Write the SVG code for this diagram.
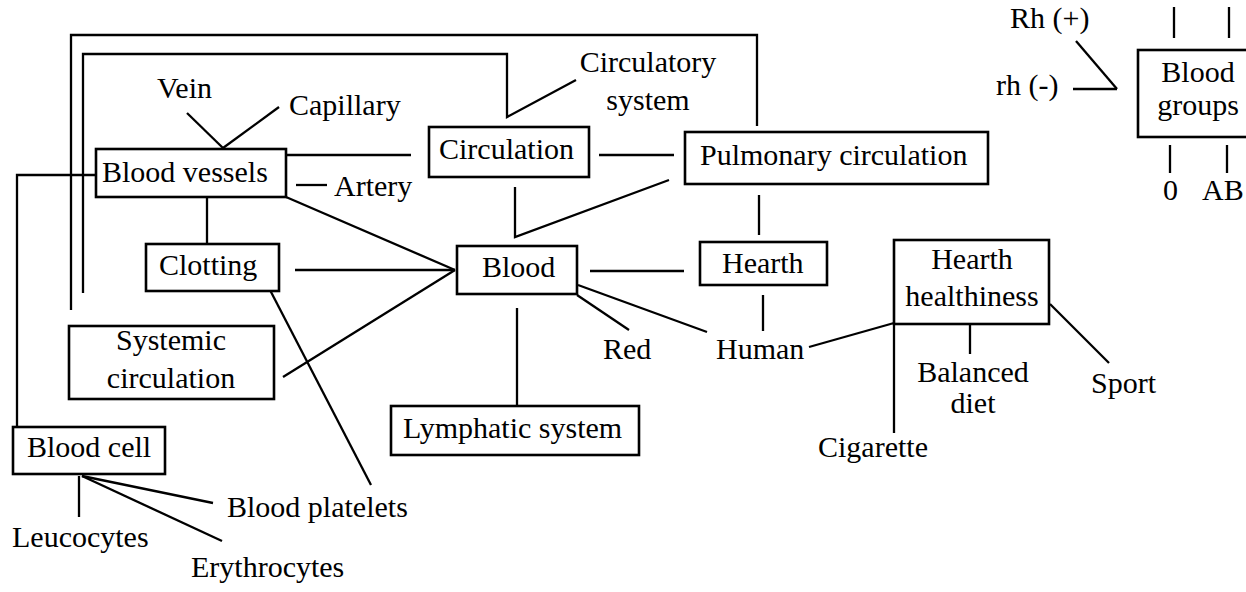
<svg xmlns="http://www.w3.org/2000/svg" width="1246" height="592" viewBox="0 0 1246 592">
  <style>
    text { font-family: "Liberation Serif", "Times New Roman", serif; font-size: 30px; fill: #000; }
    .c { text-anchor: middle; }
    .box { fill: #fff; stroke: #000; stroke-width: 2.6; }
    .ln { fill: none; stroke: #000; stroke-width: 2.3; stroke-linecap: butt; stroke-linejoin: miter; }
  </style>
  <rect width="1246" height="592" fill="#fff"/>

  <!-- connectors -->
  <g id="connectors" class="ln">
    <!-- frames round the left side -->
    <polyline points="71,310 71,35 757,35 757,126"/>
    <polyline points="83,293 83,54 507,54 507,117 576,80"/>
    <!-- Blood vessels -->
    <line x1="187" y1="113" x2="223" y2="148"/>
    <line x1="223" y1="148" x2="279" y2="107"/>
    <line x1="286" y1="155" x2="411" y2="155"/>
    <line x1="296" y1="185" x2="327" y2="185"/>
    <polyline points="96,175 17,175 17,427"/>
    <line x1="207" y1="197" x2="207" y2="244"/>
    <line x1="286" y1="197" x2="455" y2="270"/>
    <!-- Circulation / Pulmonary -->
    <line x1="599" y1="155" x2="674" y2="155"/>
    <polyline points="515,187 515,237 669,180"/>
    <line x1="759" y1="195" x2="759" y2="235"/>
    <!-- Blood -->
    <line x1="295" y1="270" x2="455" y2="270"/>
    <line x1="283" y1="377" x2="455" y2="270"/>
    <line x1="517" y1="308" x2="517" y2="406"/>
    <line x1="590" y1="271" x2="684" y2="271"/>
    <line x1="577" y1="295" x2="629" y2="330"/>
    <line x1="578" y1="285" x2="707" y2="332"/>
    <!-- Hearth / Human -->
    <line x1="763" y1="295" x2="763" y2="331"/>
    <line x1="809" y1="347" x2="894" y2="323"/>
    <!-- Hearth healthiness -->
    <line x1="894" y1="324" x2="894" y2="433"/>
    <line x1="970" y1="324" x2="970" y2="354"/>
    <line x1="1050" y1="304" x2="1109" y2="363"/>
    <!-- Clotting to Blood platelets -->
    <line x1="270" y1="290" x2="371" y2="485"/>
    <!-- Blood cell -->
    <line x1="82" y1="476" x2="213" y2="503"/>
    <line x1="82" y1="476" x2="222" y2="541"/>
    <line x1="79" y1="476" x2="79" y2="517"/>
    <!-- Blood groups -->
    <line x1="1076" y1="41" x2="1117" y2="89"/>
    <line x1="1073" y1="89" x2="1117" y2="89"/>
    <line x1="1174" y1="7" x2="1174" y2="38"/>
    <line x1="1229" y1="7" x2="1229" y2="38"/>
    <line x1="1170" y1="145" x2="1170" y2="173"/>
    <line x1="1227" y1="145" x2="1227" y2="173"/>
  </g>

  <!-- boxed nodes -->
  <g id="blood-vessels">
    <rect class="box" x="96" y="149" width="190" height="48"/>
    <text x="102" y="182">Blood vessels</text>
  </g>
  <g id="circulation">
    <rect class="box" x="429" y="127" width="160" height="50"/>
    <text x="439" y="159">Circulation</text>
  </g>
  <g id="pulmonary-circulation">
    <rect class="box" x="685" y="132" width="303" height="52"/>
    <text x="700" y="165">Pulmonary circulation</text>
  </g>
  <g id="clotting">
    <rect class="box" x="146" y="244" width="133" height="47"/>
    <text x="159" y="275">Clotting</text>
  </g>
  <g id="blood">
    <rect class="box" x="457" y="246" width="120" height="48"/>
    <text x="482" y="277">Blood</text>
  </g>
  <g id="hearth">
    <rect class="box" x="700" y="242" width="127" height="43"/>
    <text x="722" y="273">Hearth</text>
  </g>
  <g id="hearth-healthiness">
    <rect class="box" x="894" y="240" width="155" height="84"/>
    <text class="c" x="972" y="269">Hearth</text>
    <text class="c" x="972" y="306">healthiness</text>
  </g>
  <g id="systemic-circulation">
    <rect class="box" x="69" y="326" width="205" height="73"/>
    <text class="c" x="171" y="350">Systemic</text>
    <text class="c" x="171" y="388">circulation</text>
  </g>
  <g id="lymphatic-system">
    <rect class="box" x="391" y="406" width="248" height="49"/>
    <text x="403" y="438">Lymphatic system</text>
  </g>
  <g id="blood-cell">
    <rect class="box" x="13" y="427" width="152" height="47"/>
    <text x="27" y="457">Blood cell</text>
  </g>
  <g id="blood-groups">
    <rect class="box" x="1138" y="50" width="115" height="87"/>
    <text class="c" x="1198" y="82">Blood</text>
    <text class="c" x="1198" y="115">groups</text>
  </g>

  <!-- plain labels -->
  <g id="vein"><text x="157" y="98">Vein</text></g>
  <g id="capillary"><text x="289" y="115">Capillary</text></g>
  <g id="artery"><text x="334" y="196">Artery</text></g>
  <g id="circulatory-system">
    <text class="c" x="648" y="72">Circulatory</text>
    <text class="c" x="648" y="110">system</text>
  </g>
  <g id="red"><text x="603" y="359">Red</text></g>
  <g id="human"><text x="716" y="359">Human</text></g>
  <g id="balanced-diet">
    <text class="c" x="973" y="382">Balanced</text>
    <text class="c" x="973" y="413">diet</text>
  </g>
  <g id="sport"><text x="1091" y="393">Sport</text></g>
  <g id="cigarette"><text x="818" y="457">Cigarette</text></g>
  <g id="blood-platelets"><text x="227" y="517">Blood platelets</text></g>
  <g id="leucocytes"><text x="12" y="547">Leucocytes</text></g>
  <g id="erythrocytes"><text x="191" y="577">Erythrocytes</text></g>
  <g id="rh-plus"><text x="1010" y="28">Rh (+)</text></g>
  <g id="rh-minus"><text x="996" y="95">rh (-)</text></g>
  <g id="group-0"><text x="1163" y="200">0</text></g>
  <g id="group-ab"><text x="1202" y="200">AB</text></g>
</svg>
